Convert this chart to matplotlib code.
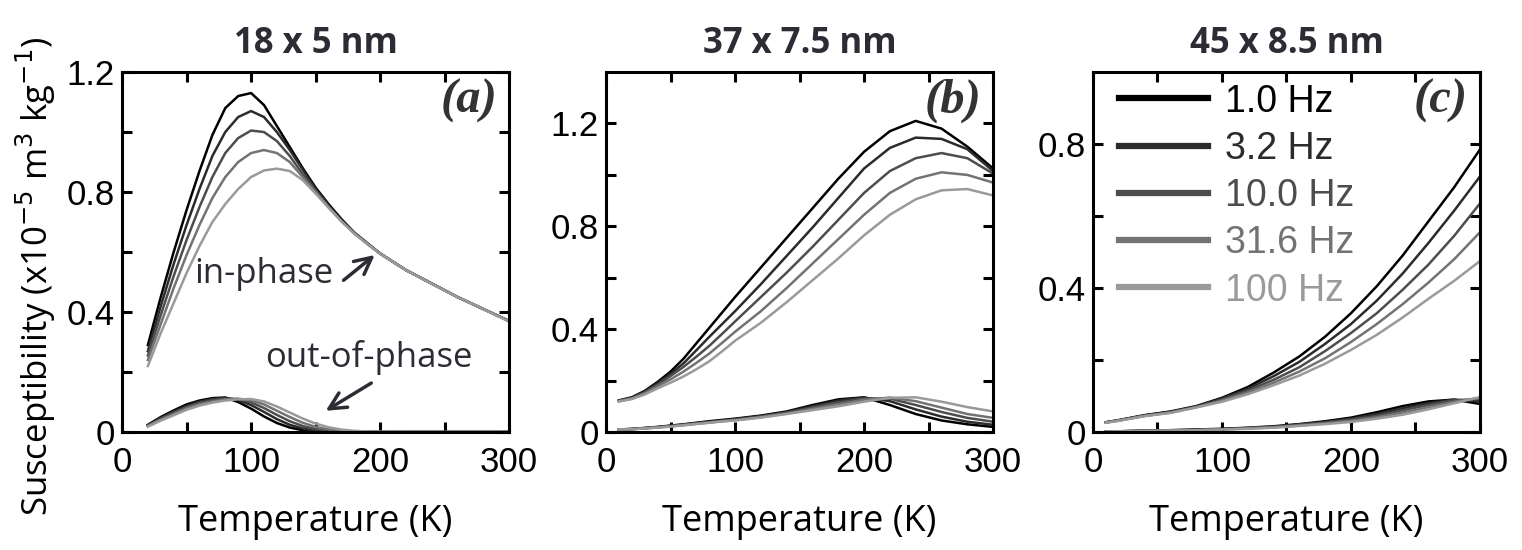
import matplotlib
matplotlib.use('Agg')
import matplotlib.pyplot as plt

# frequencies and line shades
freq_labels = ['1.0 Hz', '3.2 Hz', '10.0 Hz', '31.6 Hz', '100 Hz']
shades = ['#000000', '#2b2b2b', '#4d4d4d', '#737373', '#9a9a9a']
titles = ['18 x 5 nm', '37 x 7.5 nm', '45 x 8.5 nm']
panel_tags = ['(a)', '(b)', '(c)']

# ---- panel (a) 18 x 5 nm ----
T_a = [20, 30, 40, 50, 60, 70, 80, 90, 100, 110, 120, 130, 140, 150, 160, 170, 180, 190, 200,
       220, 240, 260, 280, 300]
inphase_a = [
    [0.29, 0.45, 0.60, 0.74, 0.87, 0.99, 1.08, 1.12, 1.13, 1.09, 1.02, 0.95, 0.88, 0.815, 0.76,
     0.71, 0.665, 0.63, 0.595, 0.54, 0.495, 0.45, 0.41, 0.37],
    [0.27, 0.42, 0.56, 0.69, 0.81, 0.92, 1.00, 1.05, 1.07, 1.05, 1.00, 0.94, 0.875, 0.81, 0.755,
     0.706, 0.664, 0.629, 0.595, 0.54, 0.495, 0.45, 0.41, 0.37],
    [0.255, 0.39, 0.52, 0.64, 0.75, 0.85, 0.93, 0.98, 1.005, 1.00, 0.97, 0.92, 0.86, 0.805, 0.752,
     0.704, 0.663, 0.628, 0.595, 0.54, 0.495, 0.45, 0.41, 0.37],
    [0.24, 0.36, 0.48, 0.59, 0.69, 0.78, 0.85, 0.90, 0.93, 0.94, 0.93, 0.90, 0.85, 0.80, 0.75,
     0.703, 0.662, 0.628, 0.595, 0.54, 0.495, 0.45, 0.41, 0.37],
    [0.22, 0.33, 0.43, 0.53, 0.62, 0.70, 0.76, 0.81, 0.85, 0.872, 0.878, 0.87, 0.84, 0.795, 0.748,
     0.702, 0.662, 0.627, 0.594, 0.54, 0.494, 0.45, 0.41, 0.368],
]
outphase_a = [
    [0.024, 0.05, 0.072, 0.092, 0.105, 0.113, 0.115, 0.10, 0.078, 0.052, 0.03, 0.015, 0.006, 0.002,
     0.001, 0, 0, 0, 0, 0, 0, 0, 0, 0],
    [0.023, 0.047, 0.068, 0.087, 0.101, 0.110, 0.114, 0.107, 0.09, 0.067, 0.043, 0.024, 0.012, 0.005,
     0.002, 0.001, 0, 0, 0, 0, 0, 0, 0, 0],
    [0.021, 0.044, 0.064, 0.083, 0.097, 0.106, 0.111, 0.11, 0.099, 0.08, 0.057, 0.036, 0.02, 0.01,
     0.005, 0.002, 0.001, 0, 0, 0, 0, 0, 0, 0],
    [0.02, 0.041, 0.06, 0.079, 0.093, 0.102, 0.108, 0.111, 0.106, 0.092, 0.071, 0.05, 0.031, 0.017,
     0.009, 0.004, 0.002, 0.001, 0, 0, 0, 0, 0, 0],
    [0.018, 0.038, 0.056, 0.074, 0.088, 0.098, 0.105, 0.109, 0.11, 0.102, 0.085, 0.065, 0.045, 0.028,
     0.016, 0.008, 0.004, 0.002, 0.001, 0, 0, 0, 0, 0],
]

# ---- panel (b) 37 x 7.5 nm ----
T_b = [10, 20, 30, 40, 50, 60, 70, 80, 90, 100, 120, 140, 160, 180, 200, 220, 240, 260, 280, 300]
inphase_b = [
    [0.123, 0.135, 0.16, 0.195, 0.235, 0.285, 0.345, 0.405, 0.465, 0.525, 0.64, 0.755, 0.87, 0.985,
     1.09, 1.17, 1.21, 1.18, 1.11, 1.025],
    [0.122, 0.134, 0.157, 0.19, 0.226, 0.267, 0.318, 0.37, 0.42, 0.47, 0.575, 0.685, 0.795, 0.91,
     1.025, 1.105, 1.145, 1.14, 1.10, 1.015],
    [0.121, 0.132, 0.154, 0.184, 0.218, 0.253, 0.293, 0.335, 0.382, 0.43, 0.525, 0.62, 0.72, 0.825,
     0.93, 1.015, 1.065, 1.085, 1.065, 1.005],
    [0.12, 0.13, 0.15, 0.178, 0.205, 0.235, 0.269, 0.305, 0.347, 0.39, 0.47, 0.56, 0.655, 0.75,
     0.845, 0.93, 0.985, 1.01, 1.0, 0.97],
    [0.119, 0.128, 0.146, 0.17, 0.192, 0.216, 0.244, 0.275, 0.314, 0.355, 0.425, 0.505, 0.59, 0.675,
     0.765, 0.845, 0.905, 0.94, 0.945, 0.92],
]
outphase_b = [
    [0.01, 0.012, 0.016, 0.02, 0.025, 0.03, 0.036, 0.042, 0.047, 0.052, 0.064, 0.08, 0.105, 0.127,
     0.135, 0.105, 0.07, 0.045, 0.03, 0.02],
    [0.01, 0.012, 0.015, 0.019, 0.024, 0.029, 0.035, 0.04, 0.045, 0.05, 0.062, 0.077, 0.1, 0.122,
     0.134, 0.12, 0.088, 0.06, 0.04, 0.028],
    [0.01, 0.011, 0.015, 0.019, 0.023, 0.028, 0.033, 0.038, 0.043, 0.048, 0.06, 0.075, 0.095, 0.115,
     0.13, 0.13, 0.105, 0.078, 0.055, 0.04],
    [0.01, 0.011, 0.014, 0.018, 0.022, 0.027, 0.032, 0.037, 0.042, 0.046, 0.058, 0.072, 0.09, 0.108,
     0.125, 0.134, 0.12, 0.095, 0.07, 0.055],
    [0.01, 0.011, 0.014, 0.017, 0.021, 0.026, 0.031, 0.036, 0.041, 0.045, 0.056, 0.07, 0.085, 0.1,
     0.118, 0.133, 0.135, 0.118, 0.097, 0.08],
]

# ---- panel (c) 45 x 8.5 nm ----
T_c = [10, 20, 40, 60, 80, 100, 120, 140, 160, 180, 200, 220, 240, 260, 280, 300]
inphase_c = [
    [0.027, 0.033, 0.047, 0.057, 0.072, 0.095, 0.125, 0.165, 0.21, 0.265, 0.33, 0.405, 0.49, 0.585,
     0.68, 0.785],
    [0.027, 0.033, 0.046, 0.056, 0.071, 0.093, 0.12, 0.155, 0.195, 0.245, 0.30, 0.365, 0.44, 0.525,
     0.615, 0.71],
    [0.027, 0.032, 0.045, 0.055, 0.07, 0.09, 0.115, 0.145, 0.18, 0.225, 0.275, 0.33, 0.395, 0.465,
     0.545, 0.635],
    [0.026, 0.032, 0.045, 0.054, 0.069, 0.087, 0.11, 0.137, 0.168, 0.205, 0.25, 0.30, 0.355, 0.415,
     0.48, 0.555],
    [0.026, 0.031, 0.044, 0.053, 0.068, 0.084, 0.105, 0.13, 0.157, 0.19, 0.228, 0.27, 0.318, 0.37,
     0.42, 0.475],
]
outphase_c = [
    [0.002, 0.002, 0.004, 0.005, 0.007, 0.009, 0.012, 0.016, 0.022, 0.03, 0.04, 0.055, 0.072, 0.085,
     0.09, 0.078],
    [0.002, 0.002, 0.003, 0.005, 0.006, 0.008, 0.011, 0.015, 0.021, 0.028, 0.037, 0.05, 0.066, 0.08,
     0.09, 0.085],
    [0.002, 0.002, 0.003, 0.004, 0.006, 0.008, 0.011, 0.014, 0.02, 0.026, 0.034, 0.045, 0.06, 0.075,
     0.088, 0.092],
    [0.002, 0.002, 0.003, 0.004, 0.005, 0.007, 0.01, 0.013, 0.018, 0.024, 0.031, 0.041, 0.054, 0.069,
     0.084, 0.095],
    [0.001, 0.002, 0.003, 0.004, 0.005, 0.007, 0.009, 0.012, 0.017, 0.022, 0.028, 0.037, 0.048, 0.063,
     0.08, 0.097],
]

y_tops = [1.2, 1.4, 1.0]
y_labelled = [[0, 0.4, 0.8, 1.2], [0, 0.4, 0.8, 1.2], [0, 0.4, 0.8]]

label_font = 'Open Sans'
tick_font = 'Liberation Sans'
text_dark = '#2c2c34'

fig = plt.figure(figsize=(15.22, 5.5), dpi=100)
lefts = [0.0802, 0.3982, 0.7181]
axes = [fig.add_axes([l, 0.2145, 0.2543, 0.6545]) for l in lefts]

panels = [(T_a, inphase_a, outphase_a), (T_b, inphase_b, outphase_b), (T_c, inphase_c, outphase_c)]

for i, ax in enumerate(axes):
    T, inp, outp = panels[i]
    for k in range(5):
        ax.plot(T, inp[k], color=shades[k], lw=1.8, label=freq_labels[k])
        ax.plot(T, outp[k], color=shades[k], lw=1.8)

    ax.set_xlim(0, 300)
    ax.set_ylim(0, y_tops[i])
    ax.set_xticks([0, 100, 200, 300])
    ax.set_xticks([50, 150, 250], minor=True)
    ax.set_xticklabels(['0', '100', '200', '300'])
    ax.set_yticks(y_labelled[i])
    ax.set_yticklabels(['%g' % v if v != 0 else '0' for v in y_labelled[i]])
    minors = [0.2, 0.6, 1.0] if y_tops[i] >= 1.2 else [0.2, 0.6]
    ax.set_yticks(minors, minor=True)

    for s in ax.spines.values():
        s.set_linewidth(2.2)
    ax.tick_params(which='both', direction='in', top=True, right=True, length=7, width=2.2)
    ax.tick_params(axis='x', pad=10)
    ax.tick_params(axis='y', pad=5)
    for lab in ax.get_xticklabels() + ax.get_yticklabels():
        lab.set_fontfamily(tick_font)
        lab.set_fontsize(25)

    ax.set_title(titles[i], fontsize=25, fontweight='bold', family=label_font,
                 color=text_dark, pad=14)
    ax.set_xlabel('Temperature (K)', fontsize=26, family=label_font, labelpad=18)
    ax.text(0.969, 0.886, panel_tags[i], transform=ax.transAxes, ha='right', va='baseline',
            fontsize=35, fontweight='bold', fontstyle='italic', family='Liberation Serif',
            color='#333333')

fig.text(0.0237, 0.498, 'Susceptibility (x10$^{-5}$ m$^{3}$ kg$^{-1}$)', fontsize=25,
         family=label_font, rotation=90, ha='center', va='center')

# annotations in panel (a)
ax = axes[0]
ax.text(110, 0.497, 'in-phase', fontsize=25, family=label_font, color=text_dark,
        ha='center', va='baseline')
ax.annotate('', xy=(197.5, 0.596), xytext=(170, 0.50),
            arrowprops=dict(arrowstyle='->', lw=2.5, color=text_dark, mutation_scale=30))
ax.text(191.5, 0.218, 'out-of-phase', fontsize=25, family=label_font, color=text_dark,
        ha='center', va='baseline')
ax.annotate('', xy=(156, 0.066), xytext=(195, 0.168),
            arrowprops=dict(arrowstyle='->', lw=2.5, color=text_dark, mutation_scale=30))

# legend in panel (c)
leg = axes[2].legend(loc='upper left', bbox_to_anchor=(0.067, 0.968), frameon=False,
                     handlelength=2.37, handletextpad=0.45, labelspacing=0.3, borderpad=0,
                     borderaxespad=0, prop={'family': tick_font, 'size': 27})
for line, txt, c in zip(leg.get_lines(), leg.get_texts(), shades):
    line.set_linewidth(4.5)
    txt.set_color(c)

fig.savefig('out.png', dpi=100)
